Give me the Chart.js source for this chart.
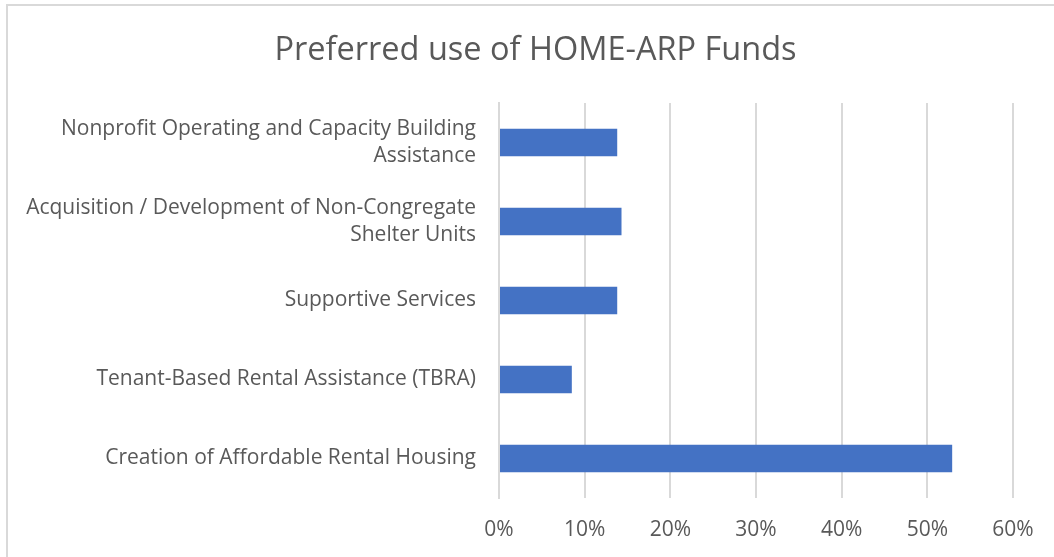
<!DOCTYPE html>
<html>
<head>
<meta charset="utf-8">
<script src="https://cdn.jsdelivr.net/npm/chart.js@4/dist/chart.umd.min.js"></script>
<style>
  html, body { margin: 0; padding: 0; background: #ffffff; overflow: hidden; }
  #wrap { position: relative; width: 1054px; height: 557px; }
  #frame { position: absolute; left: 6px; top: 4px; width: 1100px; height: 600px; border: 2px solid #d9d9d9; box-sizing: border-box; pointer-events: none; }
  canvas { position: absolute; left: 0; top: 0; }
</style>
</head>
<body>
<div id="wrap">
  <canvas id="c" width="1054" height="557"></canvas>
  <div id="frame"></div>
</div>
<script>
const chartTitle = "Preferred use of HOME-ARP Funds";
const categories = [
  ["Nonprofit Operating and Capacity Building", "Assistance"],
  ["Acquisition / Development of Non-Congregate", "Shelter Units"],
  "Supportive Services",
  "Tenant-Based Rental Assistance (TBRA)",
  "Creation of Affordable Rental Housing"
];
const shares = [13.8, 14.3, 13.8, 8.5, 52.9];
const xTicks = [0, 10, 20, 30, 40, 50, 60];

const textColor = "#595959";
const fontFamily = "'Open Sans', sans-serif";

const titlePlugin = {
  id: "offsetTitle",
  afterDraw(chart) {
    const ctx = chart.ctx;
    ctx.save();
    ctx.fillStyle = textColor;
    ctx.font = "32.5px " + fontFamily;
    ctx.textAlign = "center";
    ctx.textBaseline = "alphabetic";
    ctx.fillText(chartTitle, 535.5, 60);
    ctx.restore();
  }
};

new Chart(document.getElementById("c"), {
  type: "bar",
  data: {
    labels: categories,
    datasets: [{
      data: shares,
      backgroundColor: "#4472C4",
      borderWidth: 0,
      categoryPercentage: 0.7,
      barPercentage: 0.5
    }]
  },
  plugins: [titlePlugin],
  options: {
    indexAxis: "y",
    responsive: false,
    animation: false,
    devicePixelRatio: 1,
    layout: { padding: { left: 0, right: 41, top: 103, bottom: 0 } },
    plugins: {
      legend: { display: false },
      tooltip: { enabled: false },
      title: { display: false }
    },
    scales: {
      x: {
        min: xTicks[0],
        max: xTicks[xTicks.length - 1],
        afterBuildTicks: (scale) => { scale.ticks = xTicks.map(v => ({ value: v })); },
        afterFit: (scale) => { scale.height = 59; },
        ticks: {
          color: textColor,
          font: { family: fontFamily, size: 21 },
          padding: 19,
          callback: (v) => v + "%"
        },
        grid: { color: "#d9d9d9", lineWidth: 2, drawTicks: false },
        border: { display: false }
      },
      y: {
        afterFit: (scale) => { scale.width = 499; },
        ticks: {
          color: textColor,
          font: { family: fontFamily, size: 21, lineHeight: 1.3 },
          padding: 23
        },
        grid: { display: false, drawTicks: false },
        border: { display: true, color: "#d9d9d9", width: 2 }
      }
    }
  }
});
</script>
</body>
</html>
